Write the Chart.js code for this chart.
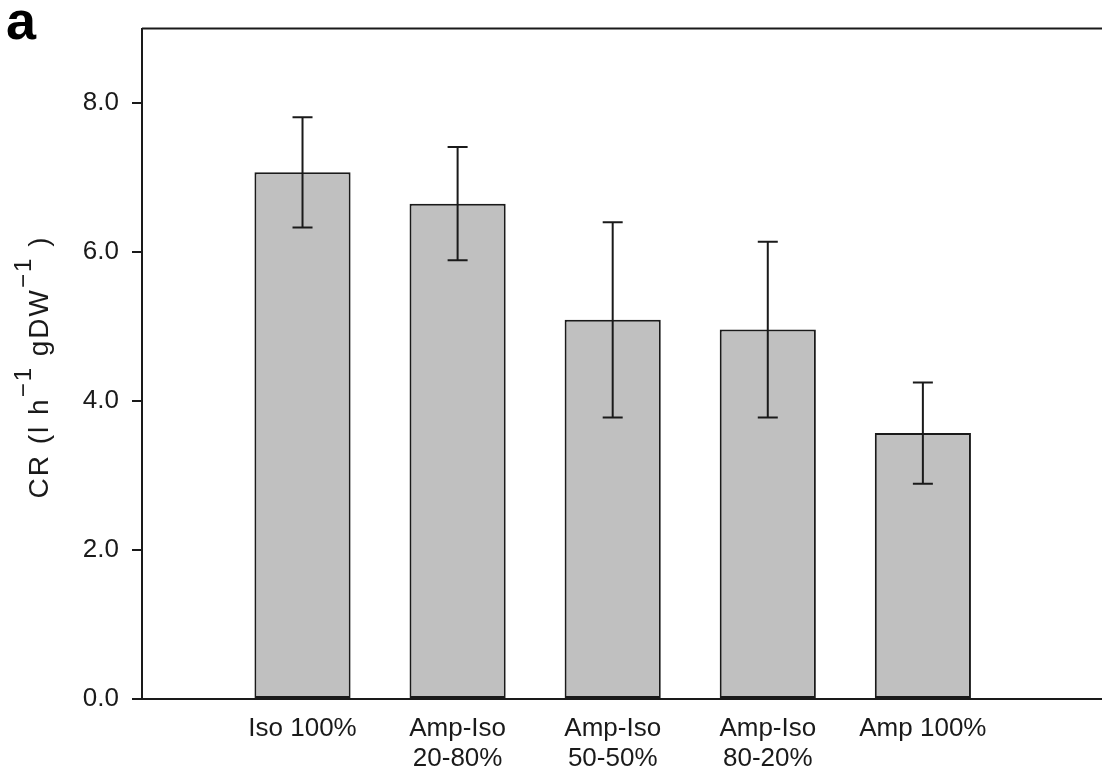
<!DOCTYPE html>
<html>
<head>
<meta charset="utf-8">
<script src="https://cdn.jsdelivr.net/npm/chart.js@4/dist/chart.umd.min.js"></script>
<style>
  html, body { margin: 0; padding: 0; background: #fff; }
  #wrap { width: 1102px; height: 771px; position: relative; }
</style>
</head>
<body>
<div id="wrap"><canvas id="cr"></canvas></div>
<script>
// categories and values
const categories = [['Iso 100%'], ['Amp-Iso', '20-80%'], ['Amp-Iso', '50-50%'], ['Amp-Iso', '80-20%'], ['Amp 100%']];
const crMeans = [7.07, 6.65, 5.09, 4.96, 3.57];
const crErrors = [0.74, 0.76, 1.31, 1.18, 0.68];
const yTicks = [0, 2, 4, 6, 8];

const FONT = '"Liberation Sans", Arial, sans-serif';
const INK = '#1a1a1a';

// error bars drawn on top of the bars
const errorBars = {
  id: 'errorBars',
  afterDatasetsDraw(chart) {
    const ctx = chart.ctx;
    const y = chart.scales.y;
    const meta = chart.getDatasetMeta(0);
    ctx.save();
    ctx.strokeStyle = INK;
    ctx.lineWidth = 2;
    meta.data.forEach((bar, i) => {
      const hi = y.getPixelForValue(crMeans[i] + crErrors[i]);
      const lo = y.getPixelForValue(crMeans[i] - crErrors[i]);
      ctx.beginPath();
      ctx.moveTo(bar.x, hi); ctx.lineTo(bar.x, lo);
      ctx.moveTo(bar.x - 10, hi); ctx.lineTo(bar.x + 10, hi);
      ctx.moveTo(bar.x - 10, lo); ctx.lineTo(bar.x + 10, lo);
      ctx.stroke();
    });
    ctx.restore();
  }
};

// top frame line, panel letter and y title with superscripts
const decorations = {
  id: 'decorations',
  afterDraw(chart) {
    const ctx = chart.ctx;
    const area = chart.chartArea;
    ctx.save();
    ctx.strokeStyle = INK;
    ctx.lineWidth = 2;
    ctx.beginPath();
    ctx.moveTo(area.left, area.top);
    ctx.lineTo(area.right, area.top);
    ctx.stroke();

    ctx.fillStyle = '#000';
    ctx.font = 'bold 54px ' + FONT;
    ctx.textBaseline = 'alphabetic';
    ctx.textAlign = 'left';
    ctx.fillText('a', 6, 39);

    const parts = [
      { t: 'CR (l h', sup: false },
      { t: '\u22121', sup: true },
      { t: ' gDW', sup: false },
      { t: '\u22121', sup: true },
      { t: ' )', sup: false }
    ];
    const big = '28px ' + FONT, small = '24px ' + FONT;
    ctx.letterSpacing = '2px';
    let total = 0;
    parts.forEach(p => { ctx.font = p.sup ? small : big; p.w = ctx.measureText(p.t).width; total += p.w; });
    ctx.translate(48, 367);
    ctx.rotate(-Math.PI / 2);
    ctx.fillStyle = INK;
    let x = -total / 2;
    parts.forEach(p => {
      ctx.font = p.sup ? small : big;
      ctx.fillText(p.t, x, p.sup ? -17 : 0);
      x += p.w;
    });
    ctx.restore();
  }
};

new Chart(document.getElementById('cr').getContext('2d'), {
  type: 'bar',
  data: {
    datasets: [{
      data: crMeans.map((v, i) => ({ x: i + 1, y: v })),
      backgroundColor: '#c0c0c0',
      borderColor: INK,
      borderWidth: 2,
      borderSkipped: false,
      barPercentage: 0.62,
      categoryPercentage: 1
    }]
  },
  options: {
    responsive: true,
    maintainAspectRatio: false,
    animation: false,
    layout: { padding: { top: 27, right: 0, left: 0, bottom: 0 } },
    plugins: { legend: { display: false }, tooltip: { enabled: false } },
    scales: {
      x: {
        type: 'linear',
        offset: false,
        min: -0.035,
        max: 6.155,
        afterBuildTicks: (scale) => { scale.ticks = categories.map((_, i) => ({ value: i + 1 })); },
        afterFit: (scale) => { scale.height = 72; },
        grid: { display: false },
        border: { display: true, color: INK, width: 2 },
        ticks: {
          autoSkip: false,
          maxRotation: 0,
          padding: 7,
          color: INK,
          font: { family: FONT, size: 26, lineHeight: 1.15 },
          callback: (v) => categories[v - 1] || ''
        }
      },
      y: {
        min: 0,
        max: 9,
        afterBuildTicks: (scale) => { scale.ticks = yTicks.map(v => ({ value: v })); },
        afterFit: (scale) => { scale.width = 142; },
        grid: { drawOnChartArea: false, drawTicks: true, tickLength: 10, color: INK, lineWidth: 2 },
        border: { display: true, color: INK, width: 2 },
        ticks: {
          padding: 13,
          color: INK,
          font: { family: FONT, size: 26 },
          callback: (v) => v.toFixed(1)
        }
      }
    }
  },
  plugins: [errorBars, decorations]
});
</script>
</body>
</html>
